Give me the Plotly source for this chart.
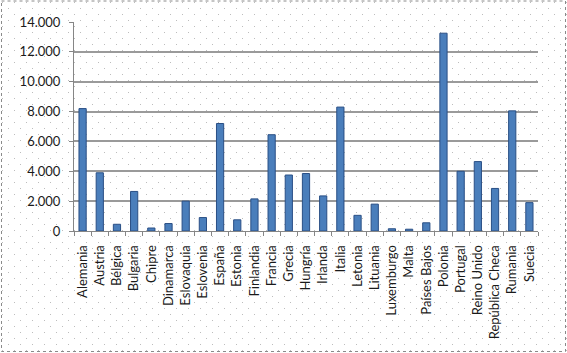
import plotly.graph_objects as go
import urllib.parse

paises = ["Alemania", "Austria", "Bélgica", "Bulgaria", "Chipre", "Dinamarca",
          "Eslovaquia", "Eslovenia", "España", "Estonia", "Finlandia", "Francia",
          "Grecia", "Hungría", "Irlanda", "Italia", "Letonia", "Lituania",
          "Luxemburgo", "Malta", "Países Bajos", "Polonia", "Portugal",
          "Reino Unido", "República Checa", "Rumania", "Suecia"]
valores = [8200, 3900, 450, 2650, 200, 500,
           2000, 900, 7200, 750, 2150, 6450,
           3750, 3850, 2350, 8300, 1050, 1800,
           150, 120, 550, 13250, 4000,
           4650, 2850, 8050, 1900]
y_ticks = [0, 2000, 4000, 6000, 8000, 10000, 12000, 14000]

W, H = 567, 353
L, R, T, B = 74, 29, 22, 122
pw, ph = W - L - R, H - T - B

def px(x):
    return (x - L) / pw

def py(y):
    return (H - B - y) / ph

# dotted background pattern
svg = (f'<svg xmlns="http://www.w3.org/2000/svg" width="{W}" height="{H}">'
       '<defs><pattern id="p" width="12" height="12" patternUnits="userSpaceOnUse">'
       '<rect x="2" y="2" width="1" height="1" fill="#bdbdbd"/>'
       '<rect x="8" y="8" width="1" height="1" fill="#bdbdbd"/>'
       '</pattern></defs>'
       f'<rect width="{W}" height="{H}" fill="white"/>'
       f'<rect width="{W}" height="{H}" fill="url(#p)"/></svg>')
src = "data:image/svg+xml;charset=utf-8," + urllib.parse.quote(svg)

fig = go.Figure()
fig.add_trace(go.Bar(
    x=paises, y=valores,
    marker=dict(color="#4a7ebb", line=dict(color="#2a4f85", width=1)),
    width=0.42,
))

fig.update_layout(
    width=W, height=H,
    margin=dict(l=L, r=R, t=T, b=B, pad=0),
    paper_bgcolor="white",
    plot_bgcolor="rgba(0,0,0,0)",
    separators=",.",
    showlegend=False,
    font=dict(family="Lato, Open Sans, sans-serif", size=13, color="#1a1a1a"),
    images=[dict(source=src, xref="paper", yref="paper",
                 x=px(0), y=py(0), sizex=px(W) - px(0), sizey=py(0) - py(H),
                 xanchor="left", yanchor="top", sizing="stretch", layer="below")],
    shapes=[dict(type="rect", xref="paper", yref="paper",
                 x0=px(1.5), x1=px(565.5), y0=py(1), y1=py(351.5),
                 line=dict(color="#8a8a8a", width=1, dash="dot"))],
)
fig.update_xaxes(
    type="category", tickangle=-90, showline=True, linecolor="#868686",
    linewidth=1, ticks="outside", tickson="boundaries", ticklen=4,
    tickcolor="#868686", showgrid=False, tickfont=dict(size=13),
    ticklabelstandoff=8,
)
fig.update_yaxes(
    range=[0, 14000], tickvals=y_ticks, tickformat=",d",
    showline=True, linecolor="#868686", linewidth=1,
    ticks="outside", ticklen=4, tickcolor="#868686",
    showgrid=True, gridcolor="#9a9a9a", gridwidth=1.6, zeroline=False,
    tickfont=dict(size=13), ticklabelstandoff=6,
)

fig.write_html("out.html")
